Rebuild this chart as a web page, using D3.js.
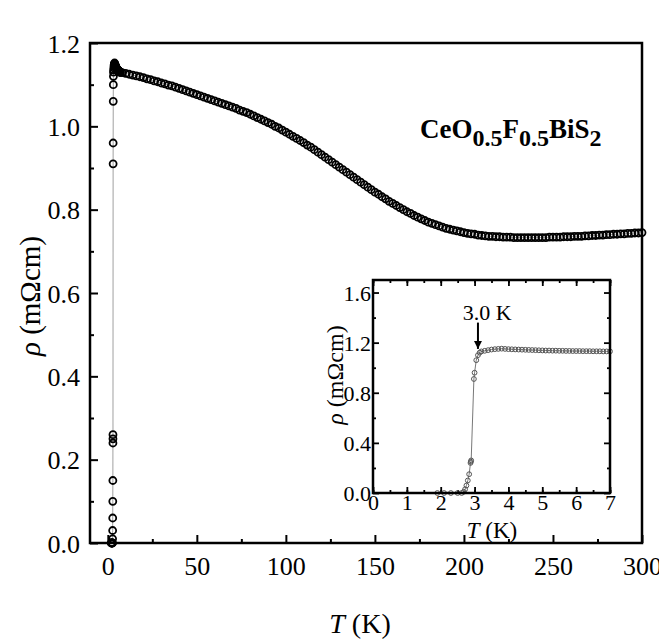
<!DOCTYPE html>
<html>
<head>
<meta charset="utf-8">
<script src="https://cdn.jsdelivr.net/npm/d3@7"></script>
<style>
  body { margin: 0; background: #fff; }
</style>
</head>
<body>
<div id="chart"></div>
<script>
// low temperature data (K, mOhm cm), shared by the main plot and the inset
var lowT = [1.9, 2.1, 2.3, 2.5, 2.62, 2.68, 2.72, 2.76, 2.8, 2.84, 2.88, 2.89, 2.9, 2.98, 3.0, 3.05, 3.1, 3.15, 3.2,
  3.3, 3.4, 3.5, 3.6, 3.7, 3.8, 3.9, 4.0, 4.1, 4.2, 4.3, 4.4, 4.5, 4.6, 4.7, 4.8, 4.9, 5.0,
  5.1, 5.2, 5.3, 5.4, 5.5, 5.6, 5.7, 5.8, 5.9, 6.0, 6.1, 6.2, 6.3, 6.4, 6.5, 6.6, 6.7, 6.8, 6.9, 7.0]
var lowRho = [0, 0, 0, 0, 0, 0.01, 0.03, 0.06, 0.1, 0.15, 0.24, 0.25, 0.26, 0.91, 0.96, 1.06, 1.1, 1.12, 1.13,
  1.135, 1.14, 1.145, 1.148, 1.15, 1.152, 1.15, 1.148, 1.147, 1.146, 1.145, 1.144, 1.143, 1.142, 1.141, 1.14, 1.139, 1.138,
  1.137, 1.137, 1.136, 1.136, 1.135, 1.135, 1.134, 1.134, 1.133, 1.133, 1.133, 1.132, 1.132, 1.132, 1.131, 1.131, 1.131, 1.13, 1.13, 1.13]

// normal state data, 8 K to 300 K
var highT = [8, 10, 12, 14, 16, 18, 20, 22, 24, 26, 28, 30, 32, 34, 36, 38, 40, 42, 44, 46, 48, 50,
  52, 54, 56, 58, 60, 62, 64, 66, 68, 70, 72, 74, 76, 78, 80, 82, 84, 86, 88, 90, 92, 94, 96, 98, 100,
  102, 104, 106, 108, 110, 112, 114, 116, 118, 120, 122, 124, 126, 128, 130, 132, 134, 136, 138, 140,
  142, 144, 146, 148, 150, 152, 154, 156, 158, 160, 162, 164, 166, 168, 170, 172, 174, 176, 178, 180,
  182, 184, 186, 188, 190, 192, 194, 196, 198, 200, 202, 204, 206, 208, 210, 212, 214, 216, 218, 220,
  222, 224, 226, 228, 230, 232, 234, 236, 238, 240, 242, 244, 246, 248, 250, 252, 254, 256, 258, 260,
  262, 264, 266, 268, 270, 272, 274, 276, 278, 280, 282, 284, 286, 288, 290, 292, 294, 296, 298, 300]
var highRho = [1.129, 1.127, 1.125, 1.123, 1.121, 1.119, 1.117, 1.114, 1.112, 1.109, 1.107, 1.104, 1.102, 1.099, 1.097, 1.094, 1.091, 1.088, 1.085, 1.082, 1.079, 1.076,
  1.073, 1.07, 1.067, 1.064, 1.061, 1.058, 1.055, 1.052, 1.049, 1.046, 1.043, 1.039, 1.036, 1.033, 1.029, 1.025, 1.021, 1.017, 1.013, 1.009, 1.005, 1.0, 0.996, 0.991, 0.986,
  0.981, 0.976, 0.971, 0.966, 0.961, 0.955, 0.95, 0.944, 0.938, 0.932, 0.926, 0.92, 0.914, 0.908, 0.902, 0.896, 0.89, 0.884, 0.878, 0.872,
  0.866, 0.86, 0.854, 0.848, 0.842, 0.837, 0.831, 0.826, 0.82, 0.815, 0.81, 0.805, 0.8, 0.795, 0.791, 0.786, 0.782, 0.778, 0.774, 0.77,
  0.767, 0.764, 0.761, 0.758, 0.755, 0.753, 0.751, 0.749, 0.747, 0.745, 0.743, 0.742, 0.741, 0.739, 0.738, 0.737, 0.736, 0.736, 0.735, 0.735,
  0.734, 0.734, 0.734, 0.733, 0.733, 0.733, 0.733, 0.733, 0.733, 0.733, 0.733, 0.733, 0.733, 0.734, 0.734, 0.734, 0.734, 0.735, 0.735, 0.735,
  0.736, 0.736, 0.736, 0.737, 0.737, 0.738, 0.738, 0.739, 0.739, 0.74, 0.74, 0.741, 0.741, 0.742, 0.742, 0.743, 0.743, 0.744, 0.744, 0.745]

var mainXTicks = [0, 50, 100, 150, 200, 250, 300]
var mainYTicks = [0, 0.2, 0.4, 0.6, 0.8, 1.0, 1.2]
var insetXTicks = [0, 1, 2, 3, 4, 5, 6, 7]
var insetYTicks = [0, 0.4, 0.8, 1.2, 1.6]
var tcLabel = '3.0 K'
var tcT = 3.1

var serif = '"Liberation Serif", "Times New Roman", Times, "DejaVu Serif", serif'

var lowData = lowT.map(function (t, i) { return { t: t, r: lowRho[i] } })
var allData = lowData.concat(highT.map(function (t, i) { return { t: t, r: highRho[i] } }))

var svg = d3.select('#chart').append('svg')
  .attr('width', 659)
  .attr('height', 643)
  .style('font-family', serif)

// ---------- main plot ----------
var x = d3.scaleLinear().domain([-10, 300]).range([90, 642])
var y = d3.scaleLinear().domain([0, 1.2]).range([543, 43])

var gx = svg.append('g').attr('transform', 'translate(0,543)')
  .call(d3.axisBottom(x).tickValues(mainXTicks).tickSize(-8).tickPadding(14).tickFormat(d3.format('d')))
gx.append('g')
  .call(d3.axisBottom(x).tickValues([25, 75, 125, 175, 225, 275]).tickSize(-4).tickFormat(''))
var gy = svg.append('g').attr('transform', 'translate(90,0)')
  .call(d3.axisLeft(y).tickValues(mainYTicks).tickSize(-8).tickPadding(10).tickFormat(d3.format('.1f')))
gy.append('g')
  .call(d3.axisLeft(y).tickValues([0.1, 0.3, 0.5, 0.7, 0.9, 1.1]).tickSize(-4).tickFormat(''))
svg.selectAll('.domain').remove()
svg.selectAll('.tick line').attr('stroke', '#000').attr('stroke-width', 2)
svg.selectAll('.tick text').attr('font-family', serif).attr('fill', '#000')
gx.selectAll('text').attr('font-size', 26)
gy.selectAll('text').attr('font-size', 26).attr('dy', '0.35em')

var mainLine = d3.line().x(function (d) { return x(d.t) }).y(function (d) { return y(d.r) })
svg.append('path').datum(allData)
  .attr('d', mainLine)
  .attr('fill', 'none')
  .attr('stroke', '#777')
  .attr('stroke-width', 0.7)
svg.append('g').selectAll('circle')
  .data(allData)
  .enter().append('circle')
  .attr('cx', function (d) { return x(d.t) })
  .attr('cy', function (d) { return y(d.r) })
  .attr('r', 3.5)
  .attr('fill', 'none')
  .attr('stroke', '#000')
  .attr('stroke-width', 1.8)

svg.append('rect')
  .attr('x', 90).attr('y', 43).attr('width', 552).attr('height', 500)
  .attr('fill', 'none').attr('stroke', '#000').attr('stroke-width', 2.5)

// axis titles
var xt = svg.append('text').attr('x', 360).attr('y', 633).attr('text-anchor', 'middle').attr('font-size', 28)
xt.append('tspan').attr('font-style', 'italic').text('T')
xt.append('tspan').text(' (K)')
var yt = svg.append('text').attr('transform', 'translate(40,296) rotate(-90)').attr('text-anchor', 'middle').attr('font-size', 29)
yt.append('tspan').attr('font-style', 'italic').text('ρ')
yt.append('tspan').text(' (mΩcm)')

// formula
var f = svg.append('text').attr('x', 420).attr('y', 138).attr('font-weight', 'bold').attr('font-size', 27)
f.append('tspan').text('CeO')
f.append('tspan').attr('font-size', 24).attr('dy', 8).text('0.5')
f.append('tspan').attr('dy', -8).text('F')
f.append('tspan').attr('font-size', 24).attr('dy', 8).text('0.5')
f.append('tspan').attr('dy', -8).text('BiS')
f.append('tspan').attr('font-size', 24).attr('dy', 8).text('2')

// ---------- inset ----------
var ix = d3.scaleLinear().domain([0, 7]).range([373, 610])
var iy = d3.scaleLinear().domain([0, 1.7]).range([493, 280])

var inset = svg.append('g')
inset.append('rect')
  .attr('x', 373).attr('y', 280).attr('width', 237).attr('height', 213)
  .attr('fill', '#fff')

var ixa = inset.append('g').attr('transform', 'translate(0,493)')
  .call(d3.axisBottom(ix).tickValues(insetXTicks).tickSize(-6).tickPadding(1).tickFormat(d3.format('d')))
ixa.append('g').call(d3.axisBottom(ix).ticks(14).tickSize(-3).tickFormat(''))
var ixt = inset.append('g').attr('transform', 'translate(0,280)')
  .call(d3.axisTop(ix).tickValues(insetXTicks).tickSize(-6).tickFormat(''))
ixt.append('g').call(d3.axisTop(ix).ticks(14).tickSize(-3).tickFormat(''))
var iya = inset.append('g').attr('transform', 'translate(373,0)')
  .call(d3.axisLeft(iy).tickValues(insetYTicks).tickSize(-6).tickPadding(2).tickFormat(d3.format('.1f')))
iya.append('g').call(d3.axisLeft(iy).tickValues([0.2, 0.6, 1.0, 1.4]).tickSize(-3).tickFormat(''))
var iyr = inset.append('g').attr('transform', 'translate(610,0)')
  .call(d3.axisRight(iy).tickValues(insetYTicks).tickSize(-6).tickFormat(''))
iyr.append('g').call(d3.axisRight(iy).tickValues([0.2, 0.6, 1.0, 1.4]).tickSize(-3).tickFormat(''))
inset.selectAll('.domain').remove()
inset.selectAll('.tick line').attr('stroke', '#000').attr('stroke-width', 1.8)
inset.selectAll('.tick text').attr('font-family', serif).attr('fill', '#000')
ixa.selectAll('text').attr('font-size', 22)
iya.selectAll('text').attr('font-size', 22).attr('dy', '0.35em')

var insetLine = d3.line().x(function (d) { return ix(d.t) }).y(function (d) { return iy(d.r) })
inset.append('path').datum(lowData)
  .attr('d', insetLine)
  .attr('fill', 'none')
  .attr('stroke', '#555')
  .attr('stroke-width', 0.8)
inset.append('g').selectAll('circle')
  .data(lowData)
  .enter().append('circle')
  .attr('cx', function (d) { return ix(d.t) })
  .attr('cy', function (d) { return iy(d.r) })
  .attr('r', 2.4)
  .attr('fill', 'none')
  .attr('stroke', '#555')
  .attr('stroke-width', 1)

inset.append('rect')
  .attr('x', 373).attr('y', 280).attr('width', 237).attr('height', 213)
  .attr('fill', 'none').attr('stroke', '#000').attr('stroke-width', 2.5)

// Tc arrow
svg.append('defs').append('marker')
  .attr('id', 'head').attr('viewBox', '0 0 10 10').attr('refX', 10).attr('refY', 5)
  .attr('markerWidth', 4).attr('markerHeight', 4).attr('orient', 'auto')
  .append('path').attr('d', 'M0,0 L10,5 L0,10 Z').attr('fill', '#000')
inset.append('line')
  .attr('x1', ix(tcT)).attr('y1', iy(1.36))
  .attr('x2', ix(tcT)).attr('y2', iy(1.15))
  .attr('stroke', '#000').attr('stroke-width', 2)
  .attr('marker-end', 'url(#head)')
inset.append('text').attr('x', ix(3.37)).attr('y', iy(1.38)).attr('text-anchor', 'middle')
  .attr('font-size', 22).text(tcLabel)

var ixTitle = inset.append('text').attr('x', 492).attr('y', 538).attr('text-anchor', 'middle').attr('font-size', 23)
ixTitle.append('tspan').attr('font-style', 'italic').text('T')
ixTitle.append('tspan').text(' (K)')
var iyTitle = inset.append('text').attr('transform', 'translate(343,375) rotate(-90)').attr('text-anchor', 'middle').attr('font-size', 24)
iyTitle.append('tspan').attr('font-style', 'italic').text('ρ')
iyTitle.append('tspan').text(' (mΩcm)')
</script>
</body>
</html>
